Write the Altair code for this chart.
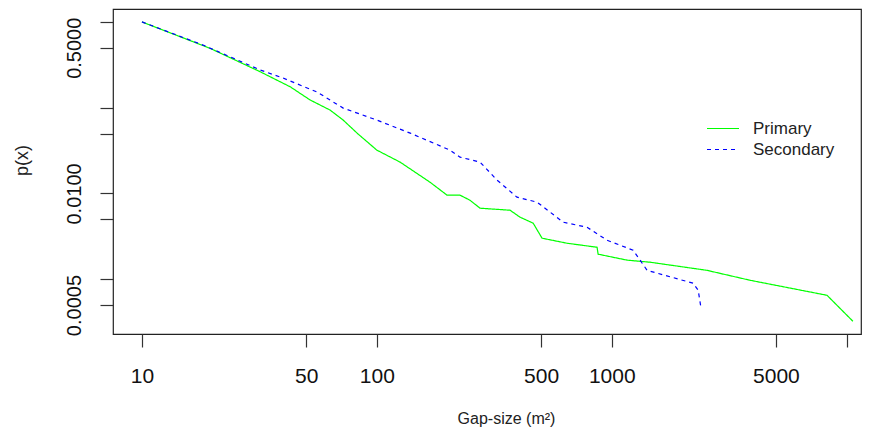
import altair as alt
import pandas as pd

# Primary series (green, solid)
primary_x = [10, 19.5, 31.9, 42.8, 52.0, 63.2, 71.9, 82.4, 100, 125.6, 168.6, 199, 226, 249, 275,
             369, 407, 463, 505, 645, 866, 875, 1162, 1455, 2545, 3880, 8250, 10630]
primary_y = [1.0, 0.492, 0.262, 0.175, 0.123, 0.0938, 0.0717, 0.0505, 0.0320, 0.0232, 0.0135,
             0.00955, 0.00955, 0.00835, 0.00673, 0.00638, 0.00529, 0.00450, 0.00301, 0.00263,
             0.00236, 0.00196, 0.00167, 0.00158, 0.00127, 0.000973, 0.000650, 0.000324]

# Secondary series (blue, dashed)
secondary_x = [10, 18.2, 31.9, 39.9, 55.7, 71.9, 100, 138.7, 205, 226, 275, 325, 395, 481, 621,
               785, 955, 1233, 1415, 2220, 2333, 2400]
secondary_y = [1.0, 0.537, 0.275, 0.2215, 0.152, 0.0989, 0.0717, 0.0505, 0.0320, 0.0265, 0.0232,
               0.0143, 0.00905, 0.00792, 0.00463, 0.00404, 0.00285, 0.00218, 0.00127, 0.000899,
               0.000745, 0.000459]

series_names = ["Primary", "Secondary"]
series_colors = ["#00FF00", "#0000FF"]

x_ticks = [10, 50, 100, 500, 1000, 5000, 10000]
y_ticks = [1.0, 0.5, 0.1, 0.05, 0.01, 0.005, 0.001, 0.0005]
y_labels_shown = ["0.5000", "0.0100", "0.0005"]

rows = []
for i, (xv, yv) in enumerate(zip(primary_x, primary_y)):
    rows.append({"x": xv, "y": yv, "series": "Primary", "idx": i})
for i, (xv, yv) in enumerate(zip(secondary_x, secondary_y)):
    rows.append({"x": xv, "y": yv, "series": "Secondary", "idx": i})
df = pd.DataFrame(rows)

FONT = "Liberation Sans"

legend_cfg = alt.Legend(
    title=None, orient="none", legendX=593, legendY=110,
    symbolType="stroke", symbolSize=1024, symbolStrokeWidth=1.2,
    labelFont=FONT, labelFontSize=17, labelColor="#222222", labelOffset=13,
    padding=0, rowPadding=2, clipHeight=19,
)

chart = alt.Chart(df).mark_line(strokeWidth=1.2, clip=True).encode(
    x=alt.X("x:Q",
            scale=alt.Scale(type="log", domain=[7.53, 11510], nice=False),
            axis=alt.Axis(values=x_ticks, format="d",
                          labelExpr="datum.value >= 10000 ? '' : datum.label",
                          title="Gap-size (m²)", grid=False, domain=False,
                          tickSize=13, tickColor="#333333", tickWidth=1.2,
                          labelFont=FONT, labelFontSize=21, labelColor="#111111",
                          labelPadding=18, labelBaseline="top", labelOverlap=False,
                          labelFlush=False,
                          titleFont=FONT, titleFontSize=16, titleFontWeight="normal",
                          titleColor="#222222", titleX=393, titleY=84,
                          titleAlign="center", titleBaseline="middle")),
    y=alt.Y("y:Q",
            scale=alt.Scale(type="log", domain=[0.000230, 1.414], nice=False),
            axis=alt.Axis(values=y_ticks, format=".4f",
                          labelExpr="indexof(['0.5000','0.0100','0.0005'], datum.label) >= 0 ? datum.label : ''",
                          title="p(x)", grid=False, domain=False,
                          tickSize=13, tickColor="#333333", tickWidth=1.2,
                          labelFont=FONT, labelFontSize=20, labelColor="#111111",
                          labelAngle=270, labelAlign="center", labelBaseline="alphabetic",
                          labelPadding=20, labelOverlap=False, labelFlush=False,
                          titleFont=FONT, titleFontSize=18, titleFontWeight="normal",
                          titleColor="#222222", titleAngle=270, titleX=-91, titleY=151,
                          titleAlign="center", titleBaseline="middle")),
    color=alt.Color("series:N", scale=alt.Scale(domain=series_names, range=series_colors),
                    legend=legend_cfg),
    strokeDash=alt.StrokeDash("series:N",
                              scale=alt.Scale(domain=series_names, range=[[1, 0], [4, 4]]),
                              legend=legend_cfg),
    order="idx:Q",
).properties(
    width=748, height=325,
    padding={"left": 105, "top": 1, "right": 1, "bottom": 93},
    autosize=alt.AutoSizeParams(type="none"),
).configure_view(stroke="#222222", strokeWidth=1.2)

chart.save("out.html", embed_options={"renderer": "svg", "actions": False})
